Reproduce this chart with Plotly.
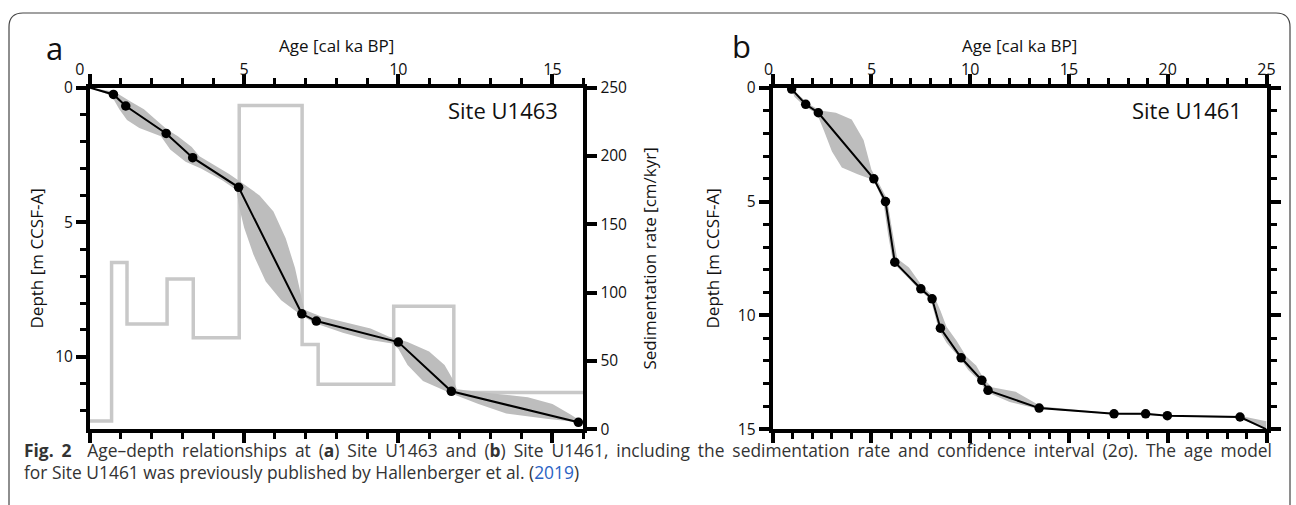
import plotly.graph_objects as go

W, H = 1296, 505
FONT = "Open Sans"

# ---------------- Panel a : Site U1463 ----------------
a_age = [0.76, 1.16, 2.47, 3.33, 4.82, 6.87, 7.34, 10.0, 11.72, 15.84]
a_depth = [0.25, 0.68, 1.70, 2.60, 3.70, 8.40, 8.67, 9.45, 11.28, 12.43]

# confidence band (2 sigma): older/shallower edge and younger/deeper edge
a_band_hi_age = [0, 0.8, 1.3, 1.75, 2.1, 2.5, 2.85, 3.3, 3.55, 4.0, 4.5, 4.95, 5.5, 5.95, 6.35,
                 6.65, 6.85, 6.95, 7.5, 8.4, 9.1, 9.7, 10.3, 11.0, 11.5, 11.8, 11.9, 13.0, 14.2,
                 15.0, 15.6, 16.0]
a_band_hi_depth = [0, 0.15, 0.5, 0.8, 1.15, 1.55, 1.8, 2.2, 2.55, 2.85, 3.2, 3.55, 4.0, 4.6, 5.6,
                   6.7, 7.7, 8.25, 8.5, 8.75, 8.95, 9.25, 9.45, 9.8, 10.3, 10.9, 11.2, 11.35, 11.5,
                   11.75, 12.15, 12.45]
a_band_lo_age = [0, 0.7, 0.95, 1.2, 1.6, 2.3, 2.6, 3.1, 3.6, 4.3, 4.75, 4.85, 5.0, 5.3, 5.7, 6.2,
                 6.85, 7.3, 8.2, 9.0, 9.8, 10.0, 10.3, 10.8, 11.7, 12.6, 13.5, 14.8, 16.0]
a_band_lo_depth = [0, 0.3, 0.8, 1.2, 1.5, 1.8, 2.3, 2.75, 3.0, 3.45, 3.8, 4.5, 5.2, 6.2, 7.2, 7.9,
                   8.45, 8.75, 9.1, 9.35, 9.5, 9.7, 10.3, 10.9, 11.35, 11.75, 12.1, 12.3, 12.45]

# sedimentation rate (step function)
sr_age_edges = [0, 0.7, 1.2, 2.5, 3.35, 4.84, 6.88, 7.4, 9.85, 11.8, 16.0]
sr_rate = [6, 122, 77, 110, 67, 237, 62, 33, 90, 27]

# ---------------- Panel b : Site U1461 ----------------
b_age = [0.96, 1.67, 2.31, 5.12, 5.71, 6.18, 7.5, 8.07, 8.49, 9.54, 10.59, 10.9, 13.49,
         17.28, 18.88, 19.98, 23.66]
b_depth = [0.06, 0.73, 1.10, 4.0, 5.0, 7.66, 8.83, 9.27, 10.56, 11.86, 12.85, 13.29, 14.07,
           14.32, 14.32, 14.40, 14.46]
b_end_age, b_end_depth = 25.0, 15.0

b_band_hi_age = [0.96, 1.3, 1.8, 2.4, 3.2, 4.0, 4.6, 5.0, 5.25, 5.8, 6.0, 6.3, 6.9, 7.3, 7.6,
                 8.2, 8.5, 8.8, 9.3, 9.8, 10.3, 10.7, 11.1, 12.3, 13.6, 17.3, 19.95, 23.7, 25.0]
b_band_hi_depth = [0.06, 0.3, 0.7, 1.0, 1.1, 1.4, 2.3, 3.6, 4.0, 4.9, 6.0, 7.5, 7.9, 8.4, 8.75,
                   9.2, 9.8, 10.5, 11.1, 11.8, 12.2, 12.8, 13.15, 13.35, 14.0, 14.3, 14.38, 14.42,
                   14.65]
b_band_lo_age = [0.96, 1.1, 1.6, 2.25, 2.6, 3.0, 3.5, 4.3, 5.1, 5.6, 5.85, 6.1, 6.8, 7.45, 8.0,
                 8.4, 8.8, 9.5, 9.9, 10.5, 10.8, 12.0, 13.4, 17.3, 19.95, 23.6, 25.0]
b_band_lo_depth = [0.06, 0.4, 0.8, 1.15, 1.9, 2.8, 3.5, 3.8, 4.05, 5.0, 6.5, 7.7, 8.3, 8.9, 9.3,
                   10.6, 11.2, 11.9, 12.4, 12.9, 13.35, 13.8, 14.1, 14.33, 14.43, 14.5, 15.0]

# tick values / labels
age_ticks_a = [0, 5, 10, 15]
age_labels_a = ["0\u2002\u2002\u00a0", "5", "10", "15"]
age_ticks_b = [0, 5, 10, 15, 20, 25]
age_labels_b = ["0\u2002", "5", "10", "15", "20", "25"]
depth_ticks_a = [0, 5, 10]
depth_ticks_b = [0, 5, 10, 15]
rate_ticks = [0, 50, 100, 150, 200, 250]

BAND = "#bdbdbd"
SRC = "#c8c8c8"


def px(x):
    return x / W


def py(y):
    return 1 - y / H


fig = go.Figure()

# sedimentation rate (base y axis of panel a)
fig.add_trace(go.Scatter(
    x=sr_age_edges, y=sr_rate + [sr_rate[-1]], mode="lines", line_shape="hv",
    line=dict(color=SRC, width=3.5), xaxis="x", yaxis="y", hoverinfo="skip"))

# band a
fig.add_trace(go.Scatter(
    x=a_band_hi_age + a_band_lo_age[::-1], y=a_band_hi_depth + a_band_lo_depth[::-1],
    fill="toself", fillcolor=BAND, line=dict(width=0), mode="lines",
    xaxis="x", yaxis="y2", hoverinfo="skip"))
# line a
fig.add_trace(go.Scatter(
    x=[0] + a_age, y=[0] + a_depth, mode="lines", line=dict(color="black", width=2),
    xaxis="x", yaxis="y2", hoverinfo="skip"))
fig.add_trace(go.Scatter(
    x=a_age, y=a_depth, mode="markers", marker=dict(color="black", size=9.5),
    xaxis="x", yaxis="y2", cliponaxis=False, hoverinfo="skip"))

# band b
fig.add_trace(go.Scatter(
    x=b_band_hi_age + b_band_lo_age[::-1], y=b_band_hi_depth + b_band_lo_depth[::-1],
    fill="toself", fillcolor=BAND, line=dict(width=0), mode="lines",
    xaxis="x2", yaxis="y3", hoverinfo="skip"))
fig.add_trace(go.Scatter(
    x=b_age + [b_end_age], y=b_depth + [b_end_depth], mode="lines",
    line=dict(color="black", width=2), xaxis="x2", yaxis="y3", hoverinfo="skip"))
fig.add_trace(go.Scatter(
    x=b_age, y=b_depth, mode="markers", marker=dict(color="black", size=9.5),
    xaxis="x2", yaxis="y3", cliponaxis=False, hoverinfo="skip"))

xtickfont = dict(family=FONT, size=16, color="#111")
ytickfont = dict(family=FONT, size=15.5, color="#111")
common = dict(showline=True, linecolor="black", linewidth=4, ticks="outside",
              tickcolor="black", tickwidth=4, ticklen=10, showgrid=False, zeroline=False,
              automargin=False)
minor = dict(dtick=1, ticks="outside", ticklen=6, tickwidth=3, tickcolor="black", showgrid=False)

dom_y = [py(429.3), py(87.7)]
fig.update_layout(
    width=W, height=H, margin=dict(l=0, r=0, t=0, b=0, pad=0, autoexpand=False),
    paper_bgcolor="white", plot_bgcolor="white", showlegend=False,
    xaxis=dict(domain=[px(90), px(583.3)], anchor="y", side="top", range=[0, 16],
               tickvals=age_ticks_a, ticktext=age_labels_a, ticklabelstandoff=-8,
               tickfont=xtickfont, minor=minor, mirror="ticks", **common),
    yaxis=dict(domain=dom_y, anchor="x", side="right", range=[0, 250],
               tickvals=rate_ticks, tickfont=ytickfont, **common),
    yaxis2=dict(overlaying="y", anchor="x", side="left", range=[12.69, 0],
                tickvals=depth_ticks_a, tickfont=ytickfont, minor=minor, **common),
    xaxis2=dict(domain=[px(772.7), px(1266.5)], anchor="y3", side="top", range=[0, 25],
                tickvals=age_ticks_b, ticktext=age_labels_b, ticklabelstandoff=-8,
                tickfont=xtickfont, minor=minor, mirror="ticks", **common),
    yaxis3=dict(domain=dom_y, anchor="x2", side="left", range=[15, 0],
                tickvals=depth_ticks_b, tickfont=ytickfont, minor=minor, mirror="ticks",
                **common),
)

ann = []
title_font = dict(family=FONT, size=17, color="#111")
ann.append(dict(text="Age [cal ka BP]", x=px(336.6), y=py(46), font=title_font))
ann.append(dict(text="Age [cal ka BP]", x=px(1019.6), y=py(46), font=title_font))
ann.append(dict(text="Depth [m CCSF-A]", x=px(36), y=py(258.5), textangle=-90, font=title_font))
ann.append(dict(text="Depth [m CCSF-A]", x=px(712), y=py(258.5), textangle=-90, font=title_font))
ann.append(dict(text="Sedimentation rate [cm/kyr]", x=px(649), y=py(258.5), textangle=-90,
                font=title_font))
ann.append(dict(text="a", x=px(54), y=py(48), font=dict(family=FONT, size=31, color="#111")))
ann.append(dict(text="b", x=px(741), y=py(46), font=dict(family=FONT, size=31, color="#111")))
site_font = dict(family=FONT, size=22, color="#111")
ann.append(dict(text="Site U1463", x=px(560), y=py(110), xanchor="right", font=site_font))
ann.append(dict(text="Site U1461", x=px(1244), y=py(110), xanchor="right", font=site_font))
cap_font = dict(family=FONT, size=17.4, color="#333")
ann.append(dict(
    text="<span style='word-spacing:3.4px'><b>Fig. 2</b>&nbsp;&nbsp;Age–depth relationships "
         "at (<b>a</b>) Site U1463 and (<b>b</b>) Site U1461, including the sedimentation rate and "
         "confidence interval (2σ). The age model</span>",
    x=px(22), y=py(449.5), xanchor="left", font=cap_font))
ann.append(dict(
    text="for Site U1461 was previously published by Hallenberger et al. "
         "(<span style='color:#2a63c4'>2019</span>)",
    x=px(22), y=py(472), xanchor="left", font=cap_font))
for a in ann:
    a.update(xref="paper", yref="paper", showarrow=False)
    a.setdefault("xanchor", "center")
    a.setdefault("yanchor", "middle")
fig.update_layout(annotations=ann)

# rounded border frame (open at the bottom)
x0, x1, yt, r = px(9), px(1290), py(13), 14
rx, ry = r / W, r / H
path = (f"M {x0},-0.05 L {x0},{yt - ry} Q {x0},{yt} {x0 + rx},{yt} "
        f"L {x1 - rx},{yt} Q {x1},{yt} {x1},{yt - ry} L {x1},-0.05")
fig.add_shape(type="path", path=path, xref="paper", yref="paper",
              line=dict(color="#444", width=1.2))

fig.write_html("out.html")
